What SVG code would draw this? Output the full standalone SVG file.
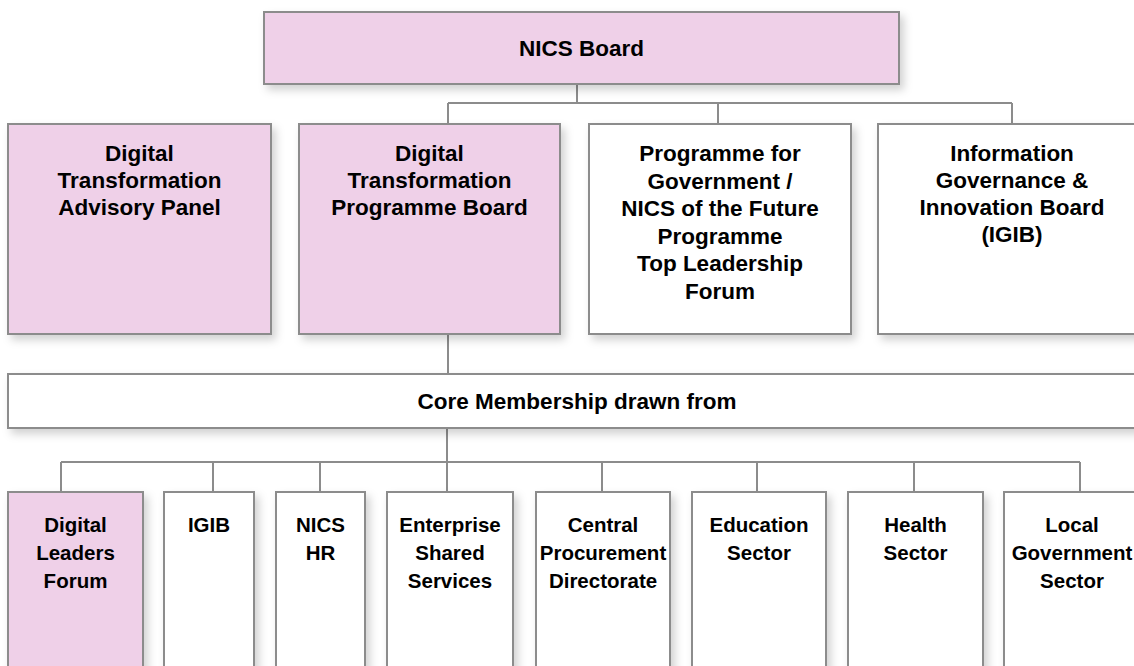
<svg xmlns="http://www.w3.org/2000/svg" width="1134" height="666" viewBox="0 0 1134 666">
  <defs>
    <filter id="sh" x="-10%" y="-10%" width="130%" height="140%">
      <feDropShadow dx="4" dy="5" stdDeviation="4" flood-color="#000" flood-opacity="0.18"/>
    </filter>
  </defs>
  <style>
    .box { stroke: #8c8c8c; stroke-width: 2; filter: url(#sh); }
    .pink { fill: #efd0e8; }
    .white { fill: #ffffff; }
    .conn { fill: none; stroke: #8c8c8c; stroke-width: 2; }
    text { font-family: "Liberation Sans", Arial, sans-serif; font-weight: bold; fill: #000; text-anchor: middle; }
    .t1 { font-size: 22.5px; }
    .t2 { font-size: 20.5px; }
  </style>
  <rect width="1134" height="666" fill="#ffffff"/>

  <g id="connectors">
    <path class="conn" d="M577 85 V103 M448 103 H1012 M448 103 V124 M718 103 V124 M1012 103 V124"/>
    <path class="conn" d="M448 334 V374 M447 428 V462 M61 462 H1080 M61 462 V492 M213 462 V492 M320 462 V492 M447 462 V492 M602 462 V492 M757 462 V492 M914 462 V492 M1080 462 V492"/>
  </g>

  <g id="nics-board">
    <rect class="box pink" x="264" y="12" width="635" height="72"/>
    <text class="t1" x="581.5" y="56">NICS Board</text>
  </g>

  <g id="dt-advisory-panel">
    <rect class="box pink" x="8" y="124" width="263" height="210"/>
    <text class="t1" x="139.5" y="161">Digital</text>
    <text class="t1" x="139.5" y="188">Transformation</text>
    <text class="t1" x="139.5" y="215">Advisory Panel</text>
  </g>

  <g id="dt-programme-board">
    <rect class="box pink" x="299" y="124" width="261" height="210"/>
    <text class="t1" x="429.5" y="161">Digital</text>
    <text class="t1" x="429.5" y="188">Transformation</text>
    <text class="t1" x="429.5" y="215">Programme Board</text>
  </g>

  <g id="pfg-forum">
    <rect class="box white" x="589" y="124" width="262" height="210"/>
    <text class="t1" x="720" y="161">Programme for</text>
    <text class="t1" x="720" y="188.5">Government /</text>
    <text class="t1" x="720" y="216">NICS of the Future</text>
    <text class="t1" x="720" y="243.5">Programme</text>
    <text class="t1" x="720" y="271">Top Leadership</text>
    <text class="t1" x="720" y="298.5">Forum</text>
  </g>

  <g id="igib-board">
    <rect class="box white" x="878" y="124" width="270" height="210"/>
    <text class="t1" x="1012" y="161">Information</text>
    <text class="t1" x="1012" y="188">Governance &amp;</text>
    <text class="t1" x="1012" y="215">Innovation Board</text>
    <text class="t1" x="1012" y="242">(IGIB)</text>
  </g>

  <g id="core-membership">
    <rect class="box white" x="8" y="374" width="1140" height="54"/>
    <text class="t1" x="577" y="409">Core Membership drawn from</text>
  </g>

  <g id="digital-leaders-forum">
    <rect class="box pink" x="8" y="492" width="135" height="190"/>
    <text class="t2" x="75.5" y="532">Digital</text>
    <text class="t2" x="75.5" y="560">Leaders</text>
    <text class="t2" x="75.5" y="588">Forum</text>
  </g>

  <g id="igib">
    <rect class="box white" x="164" y="492" width="90" height="190"/>
    <text class="t2" x="209" y="532">IGIB</text>
  </g>

  <g id="nics-hr">
    <rect class="box white" x="276" y="492" width="89" height="190"/>
    <text class="t2" x="320.5" y="532">NICS</text>
    <text class="t2" x="320.5" y="560">HR</text>
  </g>

  <g id="enterprise-shared-services">
    <rect class="box white" x="387" y="492" width="126" height="190"/>
    <text class="t2" x="450" y="532">Enterprise</text>
    <text class="t2" x="450" y="560">Shared</text>
    <text class="t2" x="450" y="588">Services</text>
  </g>

  <g id="central-procurement">
    <rect class="box white" x="536" y="492" width="134" height="190"/>
    <text class="t2" x="603" y="532">Central</text>
    <text class="t2" x="603" y="560">Procurement</text>
    <text class="t2" x="603" y="588">Directorate</text>
  </g>

  <g id="education-sector">
    <rect class="box white" x="692" y="492" width="134" height="190"/>
    <text class="t2" x="759" y="532">Education</text>
    <text class="t2" x="759" y="560">Sector</text>
  </g>

  <g id="health-sector">
    <rect class="box white" x="848" y="492" width="135" height="190"/>
    <text class="t2" x="915.5" y="532">Health</text>
    <text class="t2" x="915.5" y="560">Sector</text>
  </g>

  <g id="local-government-sector">
    <rect class="box white" x="1004" y="492" width="140" height="190"/>
    <text class="t2" x="1072" y="532">Local</text>
    <text class="t2" x="1072" y="560">Government</text>
    <text class="t2" x="1072" y="588">Sector</text>
  </g>
</svg>
